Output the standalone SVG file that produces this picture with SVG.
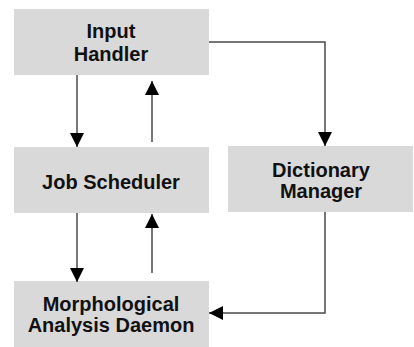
<svg xmlns="http://www.w3.org/2000/svg" width="414" height="347" viewBox="0 0 414 347">
<style>
.box{fill:#d9d9d9}
.t{font-family:"Liberation Sans",Arial,sans-serif;font-weight:bold;font-size:20px;fill:#111;text-anchor:middle}
.c{fill:none;stroke:#4a4a4a;stroke-width:1.5}
</style>
<defs>
<marker id="ah" viewBox="0 0 14 14" refX="14" refY="7" markerWidth="14" markerHeight="14" markerUnits="userSpaceOnUse" orient="auto">
<path d="M0,0 L14,7 L0,14 Z" fill="#000"/>
</marker>
</defs>
<rect width="414" height="347" fill="#fff"/>
<g id="input-handler">
<rect class="box" x="14" y="9" width="195" height="66"/>
<text class="t" x="111" y="38">Input</text>
<text class="t" x="111" y="61">Handler</text>
</g>
<g id="job-scheduler">
<rect class="box" x="14" y="147" width="195" height="66"/>
<text class="t" x="111" y="189">Job Scheduler</text>
</g>
<g id="dictionary-manager">
<rect class="box" x="228" y="146" width="185" height="66"/>
<text class="t" x="321" y="177">Dictionary</text>
<text class="t" x="321" y="198">Manager</text>
</g>
<g id="morphological-analysis-daemon">
<rect class="box" x="14" y="281" width="195" height="66"/>
<text class="t" x="111" y="311">Morphological</text>
<text class="t" x="111" y="332">Analysis Daemon</text>
</g>
<g id="connectors">
<path class="c" d="M77,75 V147" marker-end="url(#ah)"/>
<path class="c" d="M152,142 V81" marker-end="url(#ah)"/>
<path class="c" d="M77,213 V282" marker-end="url(#ah)"/>
<path class="c" d="M152,273 V214" marker-end="url(#ah)"/>
<path class="c" d="M209,42 H325 V146" marker-end="url(#ah)"/>
<path class="c" d="M325,212 V313 H209" marker-end="url(#ah)"/>
</g>
</svg>
